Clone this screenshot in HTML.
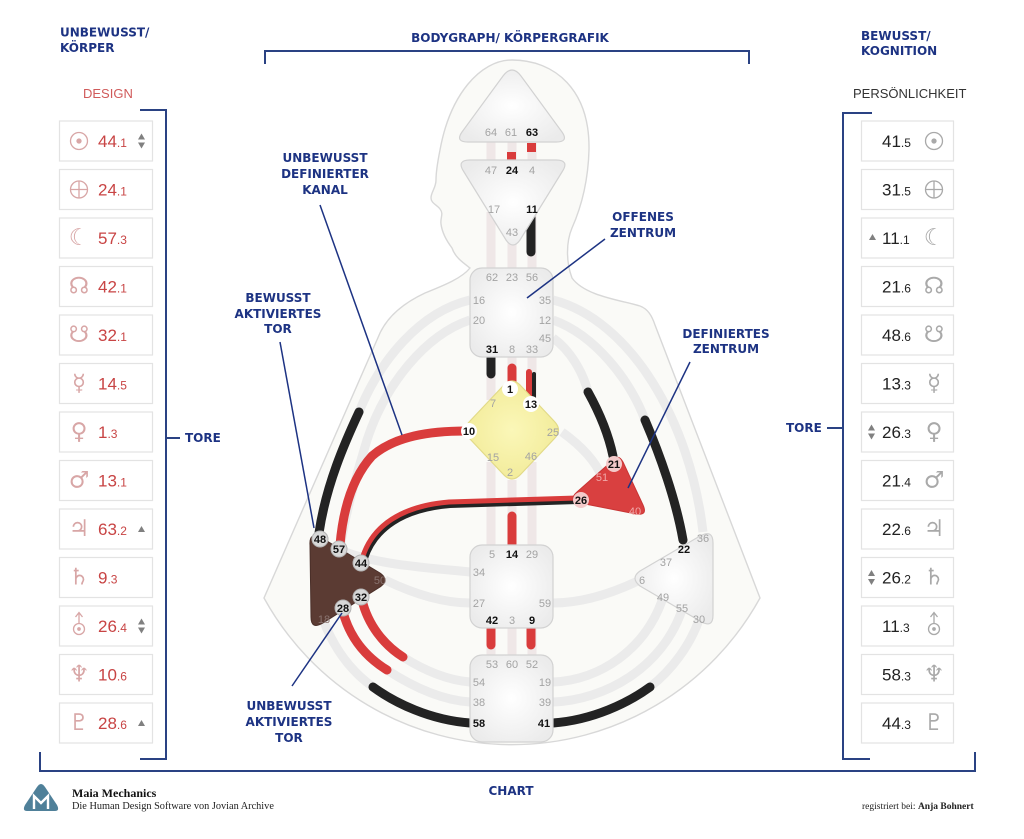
<!DOCTYPE html>
<html><head><meta charset="utf-8">
<style>
html,body{margin:0;padding:0;background:#fff;}
svg{display:block;}
.nv{font-family:"DejaVu Sans","Liberation Sans",sans-serif;font-weight:bold;fill:#1d3383;font-size:12px;}
.nc{font-family:"DejaVu Sans","Liberation Sans",sans-serif;font-weight:bold;fill:#1d3383;font-size:12px;text-anchor:middle;}
.g{font-family:"Liberation Sans",sans-serif;font-size:11px;fill:#a3a3a3;text-anchor:middle;}
.a{font-family:"Liberation Sans",sans-serif;font-size:11px;fill:#111;font-weight:bold;text-anchor:middle;}
.lp{font-family:"Liberation Sans",sans-serif;font-size:11px;fill:#f0a8a8;text-anchor:middle;}
.lb{font-family:"Liberation Sans",sans-serif;font-size:11px;fill:#8a7470;text-anchor:middle;}
.ln{font-family:"Liberation Sans",sans-serif;font-size:17px;fill:#c84444;}
.rn{font-family:"Liberation Sans",sans-serif;font-size:17px;fill:#222;}
.li{font-family:"DejaVu Sans",sans-serif;font-size:23px;fill:#d8a6a6;text-anchor:middle;}
.ri{font-family:"DejaVu Sans",sans-serif;font-size:23px;fill:#a9a9a9;text-anchor:middle;}
.band{fill:none;stroke:#ebebeb;stroke-width:9;}
.vb{fill:none;stroke:#efe7e7;stroke-width:9;}
.nl{stroke:#1d3383;stroke-width:1.5;fill:none;}
.br{stroke:#2a4283;stroke-width:2;fill:none;}
</style></head><body>
<svg width="1024" height="839" viewBox="0 0 1024 839" xmlns="http://www.w3.org/2000/svg">
<defs>
<radialGradient id="cg" cx="50%" cy="50%" r="60%">
<stop offset="0" stop-color="#ffffff"/><stop offset="1" stop-color="#ebebeb"/>
</radialGradient>
<radialGradient id="gg" cx="50%" cy="50%" r="60%">
<stop offset="0" stop-color="#fbf7b8"/><stop offset="1" stop-color="#f1ea96"/>
</radialGradient>
</defs>
<rect width="1024" height="839" fill="#fff"/>

<!-- headers -->
<text class="nv" x="60" y="36.5">UNBEWUSST/</text>
<text class="nv" x="60" y="52">KÖRPER</text>
<text class="nv" x="861" y="40">BEWUSST/</text>
<text class="nv" x="861" y="55">KOGNITION</text>
<text class="nc" x="510" y="42">BODYGRAPH/ KÖRPERGRAFIK</text>
<text x="83" y="98" font-family="Liberation Sans, sans-serif" font-size="13" fill="#d05a5a">DESIGN</text>
<text x="853" y="98" font-family="Liberation Sans, sans-serif" font-size="13" fill="#333">PERSÖNLICHKEIT</text>

<!-- brackets -->
<path class="br" d="M265,64 V51 H749 V64"/>
<path class="br" d="M140,110 H166 V759 H140"/>
<path class="br" d="M872,113 H843 V759 H870"/>
<path class="br" d="M167,438 H180"/>
<path class="br" d="M827,428 H843"/>
<path class="br" d="M40,752 V771 H975 V752"/>
<text class="nv" x="185" y="442">TORE</text>
<text class="nv" x="786" y="432">TORE</text>
<text class="nc" x="511" y="795">CHART</text>

<!-- body outline -->
<path d="M470,268 C462,262 455,257 452,248 C446,240 442,232 441,224 C440,218 444,214 440,209 C437,205 431,203 431,198 C431,192 436,188 436,180 C436,172 438,160 440,150 C450,95 480,60 512,60 C555,60 590,90 589,150 C588,185 580,210 572,228 C566,242 566,262 572,278 C585,296 620,300 640,306 C648,309 652,316 655,325 L760,598 A283,283 0 0 1 264,598 L380,333 C390,312 410,300 425,293 C445,285 462,278 470,268 Z" fill="#fafaf7" stroke="#d8d8d8" stroke-width="1.4"/>

<!-- faint vertical channels -->
<path class="vb" d="M491,142V160 M512,142V160 M532,142V160 M491,212V268 M512,236V268 M532,212V268 M491,357V400 M512,357V385 M532,357V400 M491,462V545 M512,480V545 M532,462V545 M491,628V655 M512,628V655 M532,628V655"/>

<!-- faint arcs -->
<path class="band" d="M470,300 C420,312 380,360 359,412"/>
<path class="band" d="M359,412 C345,442 326,485 319,533"/>
<path class="band" d="M470,320 C425,335 385,385 367,440 C355,480 345,515 340,549"/>
<path class="band" d="M553,338 C570,350 583,372 588,392"/>
<path class="band" d="M553,320 C595,335 630,380 645,420"/>
<path class="band" d="M553,300 C630,320 690,420 703,532"/>
<path class="band" d="M562,432 C580,445 595,460 602,477"/>
<path class="band" d="M362,600 C368,625 384,645 403,657 C422,669 446,680 470,682"/>
<path class="band" d="M343,612 C350,638 366,657 387,670 C410,685 440,700 470,702"/>
<path class="band" d="M324,622 C335,650 352,672 373,687 C395,703 430,720 470,723"/>
<path class="band" d="M553,682 C600,680 645,650 663,598"/>
<path class="band" d="M553,702 C605,700 662,668 682,610"/>
<path class="band" d="M553,723 C593,720 628,703 650,687 C672,670 690,645 699,620"/>
<path class="band" d="M470,603 C440,603 410,592 385,580"/>
<path class="band" d="M553,603 C585,603 615,592 640,580"/>
<path class="band" d="M470,572 C430,568 380,565 345,552"/>

<!-- colored channels -->
<path d="M359,412 C345,442 326,485 319,533" stroke="#232323" stroke-width="9" fill="none" stroke-linecap="round"/>
<path d="M466,431 C430,431 395,436 372,456 C352,478 343,510 340,545" stroke="#d93c3c" stroke-width="9" fill="none"/>
<path d="M364,558 C374,528 402,508 450,504 L578,500" stroke="#232323" stroke-width="8" fill="none"/>
<path d="M364,558 C374,528 402,508 450,504 L578,500" stroke="#d93c3c" stroke-width="5" fill="none" transform="translate(-1,-2)"/>
<path d="M588,392 C598,410 608,432 613,456" stroke="#232323" stroke-width="9" fill="none" stroke-linecap="round"/>
<path d="M645,420 C660,455 676,500 683,540" stroke="#232323" stroke-width="9" fill="none" stroke-linecap="round"/>
<path d="M362,600 C368,625 384,645 403,657" stroke="#d93c3c" stroke-width="9" fill="none" stroke-linecap="round"/>
<path d="M343,612 C350,638 366,657 387,670" stroke="#d93c3c" stroke-width="9" fill="none" stroke-linecap="round"/>
<path d="M373,687 C395,703 430,720 470,723" stroke="#232323" stroke-width="9" fill="none" stroke-linecap="round"/>
<path d="M553,723 C593,720 628,703 650,687" stroke="#232323" stroke-width="9" fill="none" stroke-linecap="round"/>
<path d="M491,628 V645" stroke="#d93c3c" stroke-width="9" stroke-linecap="round"/>
<path d="M531,628 V645" stroke="#d93c3c" stroke-width="9" stroke-linecap="round"/>
<path d="M512,516 V545" stroke="#d93c3c" stroke-width="9" stroke-linecap="round"/>
<path d="M512,368 V385" stroke="#d93c3c" stroke-width="9" stroke-linecap="round"/>
<path d="M529,372 V398" stroke="#d93c3c" stroke-width="6" stroke-linecap="round"/>
<path d="M534,374 V398" stroke="#232323" stroke-width="4" stroke-linecap="round"/>
<path d="M491,357 V374" stroke="#232323" stroke-width="9" stroke-linecap="round"/>
<path d="M531,218 V252" stroke="#232323" stroke-width="9" stroke-linecap="round"/>
<rect x="527" y="143" width="9" height="9" fill="#d93c3c"/>
<rect x="507" y="152" width="9" height="8" fill="#d93c3c"/>

<!-- centers -->
<path d="M503,76 Q512,64 521,76 L562,132 Q569,142 556,142 L468,142 Q455,142 462,132 Z" fill="url(#cg)" stroke="#d2d2d2" stroke-width="1.2"/>
<path d="M470,160 L556,160 Q570,160 562,172 L520,240 Q513,250 506,240 L464,172 Q456,160 470,160 Z" fill="url(#cg)" stroke="#d2d2d2" stroke-width="1.2"/>
<rect x="470" y="268" width="83" height="89" rx="12" fill="url(#cg)" stroke="#d2d2d2" stroke-width="1.2"/>
<path d="M503,386 Q512,376 521,386 L554,421 Q563,430 554,439 L521,474 Q512,484 503,474 L470,439 Q461,430 470,421 Z" fill="url(#gg)" stroke="#e2da88" stroke-width="1.2"/>
<path d="M612,461 Q618,453 623,462 L643,505 Q648,516 636,514 L580,503 Q568,500 577,492 Z" fill="#d94040" stroke="#c83535" stroke-width="1"/>
<path d="M310,545 Q309,531 322,538 L380,573 Q390,580 380,587 L323,623 Q311,630 311,617 Z" fill="#5b3b33" stroke="#4a2f29" stroke-width="1"/>
<path d="M640,571 L700,536 Q713,529 713,543 L713,615 Q713,629 700,621 L640,586 Q630,578 640,571 Z" fill="url(#cg)" stroke="#d2d2d2" stroke-width="1.2"/>
<rect x="470" y="545" width="83" height="83" rx="12" fill="url(#cg)" stroke="#d2d2d2" stroke-width="1.2"/>
<rect x="470" y="655" width="83" height="87" rx="12" fill="url(#cg)" stroke="#d2d2d2" stroke-width="1.2"/>

<!-- gate circles -->
<circle cx="510" cy="389" r="8" fill="#fff"/>
<circle cx="531" cy="404" r="8" fill="#fff"/>
<circle cx="469" cy="431" r="8" fill="#fff"/>
<circle cx="614" cy="464" r="8" fill="#f4caca"/>
<circle cx="581" cy="500" r="8" fill="#f4caca"/>
<g fill="#d8d8d8" stroke="#b5b5b5" stroke-width="1">
<circle cx="320" cy="539" r="8"/><circle cx="339" cy="549" r="8"/><circle cx="361" cy="563" r="8"/><circle cx="361" cy="597" r="8"/><circle cx="343" cy="608" r="8"/>
</g>

<!-- gate labels -->
<g>
<text class="g" x="491" y="136">64</text><text class="g" x="511" y="136">61</text><text class="a" x="532" y="136">63</text>
<text class="g" x="491" y="174">47</text><text class="a" x="512" y="174">24</text><text class="g" x="532" y="174">4</text>
<text class="g" x="494" y="213">17</text><text class="a" x="532" y="213">11</text><text class="g" x="512" y="236">43</text>
<text class="g" x="492" y="281">62</text><text class="g" x="512" y="281">23</text><text class="g" x="532" y="281">56</text>
<text class="g" x="479" y="304">16</text><text class="g" x="545" y="304">35</text>
<text class="g" x="479" y="324">20</text><text class="g" x="545" y="324">12</text>
<text class="g" x="545" y="342">45</text>
<text class="a" x="492" y="353">31</text><text class="g" x="512" y="353">8</text><text class="g" x="532" y="353">33</text>
<text class="a" x="510" y="393">1</text><text class="g" x="493" y="407" fill="#a8a070">7</text><text class="a" x="531" y="408">13</text>
<text class="a" x="469" y="435">10</text><text class="g" x="553" y="436" fill="#a8a070">25</text>
<text class="g" x="493" y="461" fill="#a8a070">15</text><text class="g" x="531" y="460" fill="#a8a070">46</text><text class="g" x="510" y="476" fill="#a8a070">2</text>
<text class="a" x="614" y="468">21</text><text class="lp" x="602" y="481">51</text><text class="a" x="581" y="504">26</text><text class="lp" x="635" y="515">40</text>
<text class="a" x="320" y="543">48</text><text class="a" x="339" y="553">57</text><text class="a" x="361" y="567">44</text><text class="lb" x="380" y="584">50</text>
<text class="a" x="361" y="601">32</text><text class="a" x="343" y="612">28</text><text class="lb" x="324" y="623">18</text>
<text class="g" x="703" y="542">36</text><text class="a" x="684" y="553">22</text><text class="g" x="666" y="566">37</text>
<text class="g" x="642" y="584">6</text><text class="g" x="663" y="601">49</text><text class="g" x="682" y="612">55</text><text class="g" x="699" y="623">30</text>
<text class="g" x="492" y="558">5</text><text class="a" x="512" y="558">14</text><text class="g" x="532" y="558">29</text>
<text class="g" x="479" y="576">34</text><text class="g" x="479" y="607">27</text><text class="g" x="545" y="607">59</text>
<text class="a" x="492" y="624">42</text><text class="g" x="512" y="624">3</text><text class="a" x="532" y="624">9</text>
<text class="g" x="492" y="668">53</text><text class="g" x="512" y="668">60</text><text class="g" x="532" y="668">52</text>
<text class="g" x="479" y="686">54</text><text class="g" x="545" y="686">19</text>
<text class="g" x="479" y="706">38</text><text class="g" x="545" y="706">39</text>
<text class="a" x="479" y="727">58</text><text class="a" x="544" y="727">41</text>
</g>

<!-- annotations -->
<path class="nl" d="M320,205 L402,435"/>
<path class="nl" d="M280,342 L314,528"/>
<path class="nl" d="M605,239 L527,298"/>
<path class="nl" d="M690,362 L628,488"/>
<path class="nl" d="M292,686 L342,613"/>
<text class="nc" x="325" y="162">UNBEWUSST</text>
<text class="nc" x="325" y="178">DEFINIERTER</text>
<text class="nc" x="325" y="194">KANAL</text>
<text class="nc" x="278" y="302">BEWUSST</text>
<text class="nc" x="278" y="318">AKTIVIERTES</text>
<text class="nc" x="278" y="333">TOR</text>
<text class="nc" x="643" y="221">OFFENES</text>
<text class="nc" x="643" y="237">ZENTRUM</text>
<text class="nc" x="726" y="338">DEFINIERTES</text>
<text class="nc" x="726" y="353">ZENTRUM</text>
<text class="nc" x="289" y="710">UNBEWUSST</text>
<text class="nc" x="289" y="726">AKTIVIERTES</text>
<text class="nc" x="289" y="742">TOR</text>

<!-- planet boxes -->
<g fill="#fff" stroke="#e3e3e3" stroke-width="1.2">
<rect x="59.5" y="121" width="93" height="40"/><rect x="59.5" y="169.5" width="93" height="40"/><rect x="59.5" y="218" width="93" height="40"/><rect x="59.5" y="266.5" width="93" height="40"/><rect x="59.5" y="315" width="93" height="40"/><rect x="59.5" y="363.5" width="93" height="40"/><rect x="59.5" y="412" width="93" height="40"/><rect x="59.5" y="460.5" width="93" height="40"/><rect x="59.5" y="509" width="93" height="40"/><rect x="59.5" y="557.5" width="93" height="40"/><rect x="59.5" y="606" width="93" height="40"/><rect x="59.5" y="654.5" width="93" height="40"/><rect x="59.5" y="703" width="93" height="40"/>
</g>
<g fill="#fff" stroke="#e3e3e3" stroke-width="1.2">
<rect x="861.5" y="121" width="92" height="40"/><rect x="861.5" y="169.5" width="92" height="40"/><rect x="861.5" y="218" width="92" height="40"/><rect x="861.5" y="266.5" width="92" height="40"/><rect x="861.5" y="315" width="92" height="40"/><rect x="861.5" y="363.5" width="92" height="40"/><rect x="861.5" y="412" width="92" height="40"/><rect x="861.5" y="460.5" width="92" height="40"/><rect x="861.5" y="509" width="92" height="40"/><rect x="861.5" y="557.5" width="92" height="40"/><rect x="861.5" y="606" width="92" height="40"/><rect x="861.5" y="654.5" width="92" height="40"/><rect x="861.5" y="703" width="92" height="40"/>
</g>

<!-- left icons -->
<g fill="none" stroke="#d8a6a6" stroke-width="1.3">
<circle cx="79" cy="141" r="8.5"/><circle cx="79" cy="141" r="2" fill="#d8a6a6"/>
<circle cx="79" cy="189.5" r="8.5"/><path d="M70.5,189.5H87.5 M79,181V198"/>
<circle cx="79" cy="629" r="5.5"/><circle cx="79" cy="629" r="1.2" fill="#d8a6a6"/><path d="M79,623.5V613 M75.5,617L79,612.5L82.5,617"/>
</g>
<text class="li" x="79" y="245">☾</text>
<text class="li" x="79" y="293.5">☊</text>
<text class="li" x="79" y="342">☋</text>
<text class="li" x="79" y="390.5">☿</text>
<text class="li" x="79" y="439">♀</text>
<text class="li" x="79" y="487.5">♂</text>
<text class="li" x="79" y="536">♃</text>
<text class="li" x="79" y="584.5">♄</text>
<text class="li" x="79" y="681.5">♆</text>
<text class="li" x="79" y="730">♇</text>

<text class="ln" x="98" y="147">44<tspan font-size="12">.1</tspan></text>
<text class="ln" x="98" y="195.5">24<tspan font-size="12">.1</tspan></text>
<text class="ln" x="98" y="244">57<tspan font-size="12">.3</tspan></text>
<text class="ln" x="98" y="292.5">42<tspan font-size="12">.1</tspan></text>
<text class="ln" x="98" y="341">32<tspan font-size="12">.1</tspan></text>
<text class="ln" x="98" y="389.5">14<tspan font-size="12">.5</tspan></text>
<text class="ln" x="98" y="438">1<tspan font-size="12">.3</tspan></text>
<text class="ln" x="98" y="486.5">13<tspan font-size="12">.1</tspan></text>
<text class="ln" x="98" y="535">63<tspan font-size="12">.2</tspan></text>
<text class="ln" x="98" y="583.5">9<tspan font-size="12">.3</tspan></text>
<text class="ln" x="98" y="632">26<tspan font-size="12">.4</tspan></text>
<text class="ln" x="98" y="680.5">10<tspan font-size="12">.6</tspan></text>
<text class="ln" x="98" y="729">28<tspan font-size="12">.6</tspan></text>

<g fill="#808080">
<polygon points="138,139.5 145,139.5 141.5,133.5"/><polygon points="138,142.5 145,142.5 141.5,148.5"/>
<polygon points="138,532 145,532 141.5,526"/>
<polygon points="138,624.5 145,624.5 141.5,618.5"/><polygon points="138,627.5 145,627.5 141.5,633.5"/>
<polygon points="138,726 145,726 141.5,720"/>
<polygon points="869,240 876,240 872.5,234"/>
<polygon points="868,430.5 875,430.5 871.5,424.5"/><polygon points="868,433.5 875,433.5 871.5,439.5"/>
<polygon points="868,576 875,576 871.5,570"/><polygon points="868,579 875,579 871.5,585"/>
</g>

<!-- right numbers & icons -->
<text class="rn" x="882" y="147">41<tspan font-size="12">.5</tspan></text>
<text class="rn" x="882" y="195.5">31<tspan font-size="12">.5</tspan></text>
<text class="rn" x="882" y="244">11<tspan font-size="12">.1</tspan></text>
<text class="rn" x="882" y="292.5">21<tspan font-size="12">.6</tspan></text>
<text class="rn" x="882" y="341">48<tspan font-size="12">.6</tspan></text>
<text class="rn" x="882" y="389.5">13<tspan font-size="12">.3</tspan></text>
<text class="rn" x="882" y="438">26<tspan font-size="12">.3</tspan></text>
<text class="rn" x="882" y="486.5">21<tspan font-size="12">.4</tspan></text>
<text class="rn" x="882" y="535">22<tspan font-size="12">.6</tspan></text>
<text class="rn" x="882" y="583.5">26<tspan font-size="12">.2</tspan></text>
<text class="rn" x="882" y="632">11<tspan font-size="12">.3</tspan></text>
<text class="rn" x="882" y="680.5">58<tspan font-size="12">.3</tspan></text>
<text class="rn" x="882" y="729">44<tspan font-size="12">.3</tspan></text>

<g fill="none" stroke="#a9a9a9" stroke-width="1.3">
<circle cx="934" cy="141" r="8.5"/><circle cx="934" cy="141" r="2" fill="#a9a9a9"/>
<circle cx="934" cy="189.5" r="8.5"/><path d="M925.5,189.5H942.5 M934,181V198"/>
<circle cx="934" cy="629" r="5.5"/><circle cx="934" cy="629" r="1.2" fill="#a9a9a9"/><path d="M934,623.5V613 M930.5,617L934,612.5L937.5,617"/>
</g>
<text class="ri" x="934" y="245">☾</text>
<text class="ri" x="934" y="293.5">☊</text>
<text class="ri" x="934" y="342">☋</text>
<text class="ri" x="934" y="390.5">☿</text>
<text class="ri" x="934" y="439">♀</text>
<text class="ri" x="934" y="487.5">♂</text>
<text class="ri" x="934" y="536">♃</text>
<text class="ri" x="934" y="584.5">♄</text>
<text class="ri" x="934" y="681.5">♆</text>
<text class="ri" x="934" y="730">♇</text>

<!-- footer -->
<path d="M27,811 Q22,811 25,805 L37,787 Q41,781 45,787 L57,805 Q60,811 55,811 Z" fill="#4f8099"/>
<path d="M34,809 V796 L41,803 L48,796 V809" stroke="#fff" stroke-width="2.4" fill="none"/>
<text x="72" y="797" font-family="Liberation Serif, serif" font-size="12" font-weight="bold" fill="#111">Maia Mechanics</text>
<text x="72" y="809" font-family="Liberation Serif, serif" font-size="10.3" fill="#222">Die Human Design Software von Jovian Archive</text>
<text x="862" y="809" font-family="Liberation Serif, serif" font-size="9.5" fill="#222">registriert bei: <tspan font-weight="bold">Anja Bohnert</tspan></text>
</svg>
</body></html>
